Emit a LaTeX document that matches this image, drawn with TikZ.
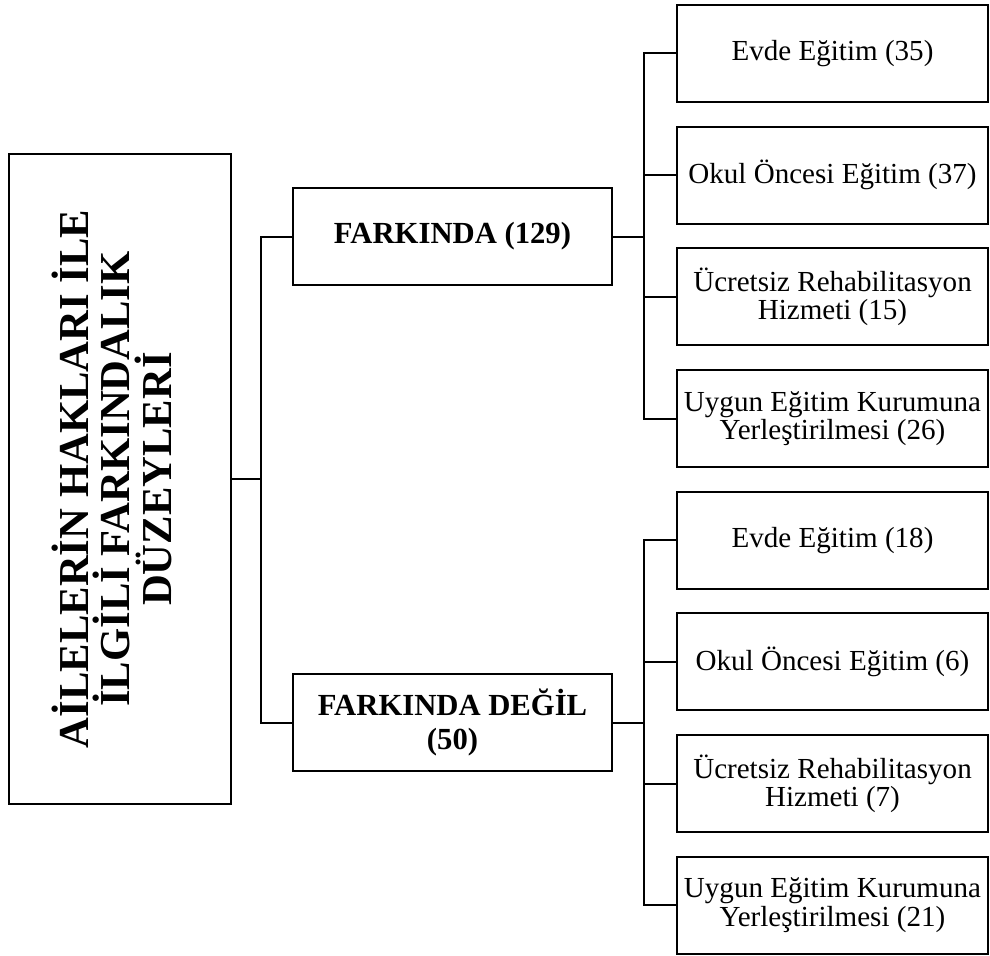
\documentclass[tikz,border=0pt]{standalone}
\usepackage{fontspec}
\setmainfont{Liberation Serif}

\tikzset{every picture/.style={line width=1.5pt}}
\tikzset{
  leafbox/.style={draw, align=center, inner sep=0pt, minimum width=233.25pt, minimum height=72.75pt, font=\fontsize{21.8}{21.2}\selectfont},
  groupbox/.style={draw, align=center, inner sep=0pt, minimum width=239.25pt, minimum height=72.75pt, font=\bfseries\fontsize{23}{25}\selectfont},
  rootbox/.style={draw, inner sep=0pt, minimum width=166.5pt, minimum height=487.5pt, font=\bfseries\fontsize{32}{31}\selectfont}
}

\begin{document}
\begin{tikzpicture}[x=0.75pt,y=0.75pt,yscale=-1,xscale=1]
    \useasboundingbox (0,0) rectangle (990,956); %whole diagram is 990 x 956

    %Rectangle: root
    \draw (119.75,479) node [rootbox] (root) {\hspace*{-12pt}\rotatebox{90}{\parbox{440pt}{\centering AİLELERİN HAKLARI İLE\\ İLGİLİ FARKINDALIK\\ DÜZEYLERİ}}};

    %Rectangle: aware / not aware
    \draw (452.5,236.5) node [groupbox] (aware) {FARKINDA (129)};
    \draw (452.5,722.5) node [groupbox] (unaware) {FARKINDA DEĞİL\\ (50)};

    %Rectangles: upper group
    \draw (832.5,53.5) node [leafbox] (aw1) {Evde Eğitim (35)};
    \draw (832.5,175.2) node [leafbox] (aw2) {Okul Öncesi Eğitim (37)};
    \draw (832.5,296.9) node [leafbox] (aw3) {Ücretsiz Rehabilitasyon\\ Hizmeti (15)};
    \draw (832.5,418.6) node [leafbox] (aw4) {Uygun Eğitim Kurumuna\\ Yerleştirilmesi (26)};

    %Rectangles: lower group
    \draw (832.5,540.2) node [leafbox] (un1) {Evde Eğitim (18)};
    \draw (832.5,661.8) node [leafbox] (un2) {Okul Öncesi Eğitim (6)};
    \draw (832.5,783.5) node [leafbox] (un3) {Ücretsiz Rehabilitasyon\\ Hizmeti (7)};
    \draw (832.5,905.2) node [leafbox] (un4) {Uygun Eğitim Kurumuna\\ Yerleştirilmesi (21)};

    %Elbow connectors
    \draw (aware.west) -- ++(-31,0) |- (root.east);
    \draw (unaware.west) -- ++(-31,0) |- (root.east);

    \draw (aw1.west) -- ++(-32,0) |- (aware.east);
    \draw (aw2.west) -- ++(-32,0) |- (aware.east);
    \draw (aw3.west) -- ++(-32,0) |- (aware.east);
    \draw (aw4.west) -- ++(-32,0) |- (aware.east);

    \draw (un1.west) -- ++(-32,0) |- (unaware.east);
    \draw (un2.west) -- ++(-32,0) |- (unaware.east);
    \draw (un3.west) -- ++(-32,0) |- (unaware.east);
    \draw (un4.west) -- ++(-32,0) |- (unaware.east);

\end{tikzpicture}
\end{document}
